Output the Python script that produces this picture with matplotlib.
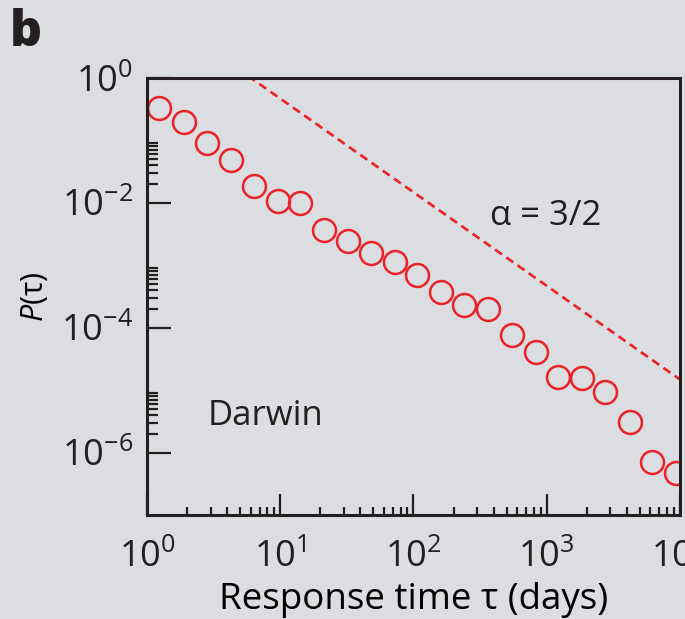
import numpy as np
import matplotlib
matplotlib.use("Agg")
import matplotlib.pyplot as plt
from matplotlib.ticker import FixedLocator, LogFormatterSciNotation, NullFormatter

# --- data ---
tau = [1.23, 1.89, 2.81, 4.26, 6.32, 9.57, 14.0, 21.2, 32.1, 47.6, 72.1, 107,
       162, 241, 365, 552, 834, 1219, 1845, 2742, 4217, 6166, 9333]
p_tau = [0.334, 0.200, 0.0895, 0.0482, 0.0186, 0.0108, 0.0100, 3.72e-3, 2.49e-3,
         1.55e-3, 1.12e-3, 6.93e-4, 3.72e-4, 2.32e-4, 2.00e-4, 7.74e-5, 4.01e-5,
         1.61e-5, 1.55e-5, 9.29e-6, 3.10e-6, 7.19e-7, 4.65e-7]

# reference power law P ~ C * tau^-alpha
alpha = 1.5
C = 14.8
tau_ref = [1.0, 1e4]

# --- style ---
bg = "#dcdde0"
red = "#ec2229"
ink = "#231f20"
plt.rcParams["font.family"] = ["Open Sans", "DejaVu Sans"]
plt.rcParams["mathtext.fontset"] = "custom"
plt.rcParams["mathtext.rm"] = "Open Sans"
plt.rcParams["mathtext.it"] = "Open Sans:italic"
plt.rcParams["axes.unicode_minus"] = False
plt.rcParams["text.color"] = ink

fig = plt.figure(figsize=(6.85, 6.19), dpi=100, facecolor=bg)
ax = fig.add_axes([147/685, 104/619, 533/685, 437/619], facecolor=bg)

ax.plot(tau, p_tau, "o", ms=16.5, mfc="none", mec=red, mew=1.8)
ax.plot(tau_ref, [C*t**(-alpha) for t in tau_ref], color=red, lw=1.9,
        dashes=(3.2, 2.0))

ax.set_xscale("log")
ax.set_yscale("log")
ax.set_xlim(1, 1e4)
ax.set_ylim(1e-7, 1)

# ticks: minors only in the decade above each labelled y value
ax.xaxis.set_major_locator(FixedLocator([1, 10, 100, 1e3, 1e4]))
ax.xaxis.set_minor_locator(FixedLocator([k*10.0**d for d in range(4) for k in range(2, 10)]))
ax.yaxis.set_major_locator(FixedLocator([1, 1e-2, 1e-4, 1e-6]))
ax.yaxis.set_minor_locator(FixedLocator([k*10.0**d for d in (-2, -4, -6) for k in range(2, 10)]))
ax.xaxis.set_major_formatter(LogFormatterSciNotation())
ax.yaxis.set_major_formatter(LogFormatterSciNotation())
ax.xaxis.set_minor_formatter(NullFormatter())
ax.yaxis.set_minor_formatter(NullFormatter())

ax.tick_params(which="both", direction="in", top=False, right=False,
               colors=ink, width=1.6, labelsize=26)
ax.tick_params(axis="x", which="major", length=15, pad=18)
ax.tick_params(axis="x", which="minor", length=6)
ax.tick_params(axis="y", which="major", length=17, pad=10)
ax.tick_params(axis="y", which="minor", length=8)

for s in ax.spines.values():
    s.set_linewidth(2.2)
    s.set_color(ink)

ax.set_xlabel("Response time τ (days)", fontsize=26.5, labelpad=4)
ax.set_ylabel("$\\mathit{P}$(τ)", fontsize=22, labelpad=8)

ax.text(0.113, 0.227, "Darwin", transform=ax.transAxes, fontsize=25,
        va="center", ha="left")
ax.text(0.644, 0.684, "α = 3/2", transform=ax.transAxes, fontsize=25,
        va="center", ha="left")

fig.text(10/685, 1 - 33/619, "b", fontsize=36, fontweight="heavy",
         va="center", ha="left")

fig.savefig("out.png", dpi=100, facecolor=bg)
